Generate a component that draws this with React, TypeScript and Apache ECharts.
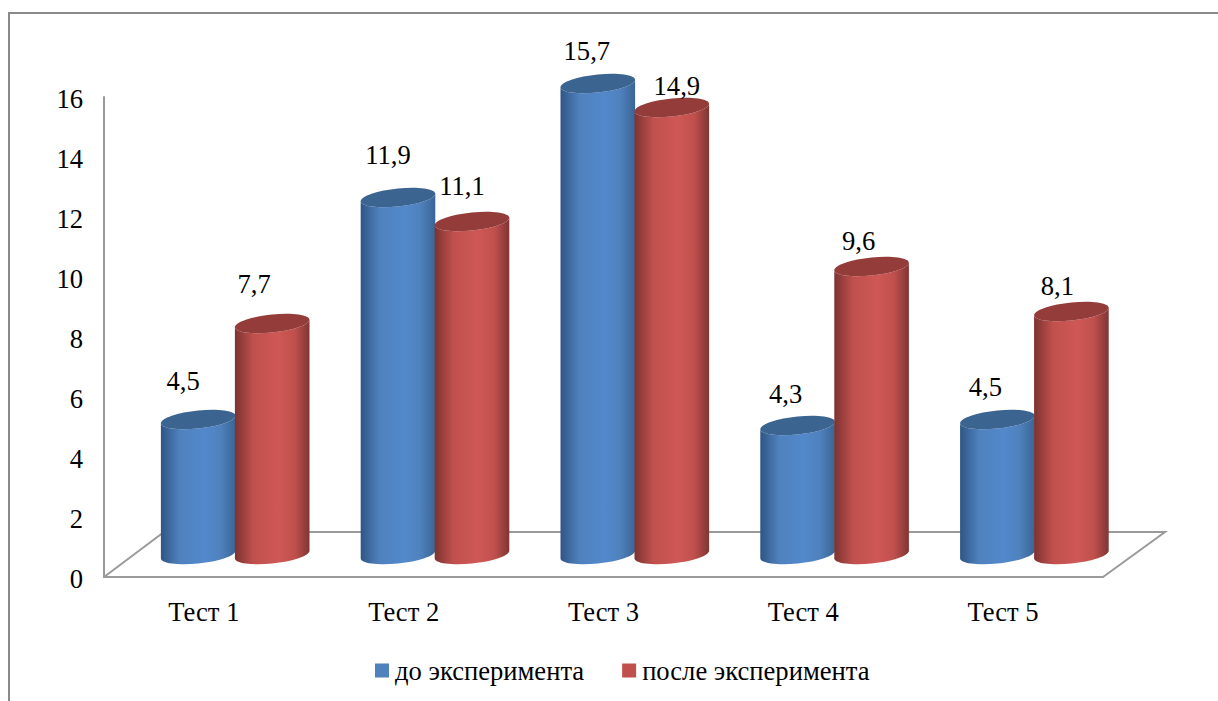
import React, { useEffect, useRef } from "react";
import * as echarts from "echarts";

const categories = ["Тест 1", "Тест 2", "Тест 3", "Тест 4", "Тест 5"];
const yTicks = { min: 0, max: 16, interval: 2 };
const beforeName = "до эксперимента";
const afterName = "после эксперимента";
const beforeValues = [4.5, 11.9, 15.7, 4.3, 4.5];
const afterValues = [7.7, 11.1, 14.9, 9.6, 8.1];

// Hand-placed nudges for the value captions, relative to each cylinder's top centre.
const beforeCaptionNudge = [[-15, -39], [-10, -43], [-11, -33], [-12, -32], [-12, -33]];
const afterCaptionNudge = [[-18, -40], [-10, -36], [5, -22], [-13, -26], [-14, -26]];

const SERIF = '"Liberation Serif", "Times New Roman", serif';
const FONT_SIZE = 26.6;
const GRID = { left: 104, top: 97, width: 999, height: 480 };
const DEPTH = { x: 60, y: -45 };
const CYL = { rx: 37.5, ry: 9, tilt: -6, gap: 37, shift: 1.3 };

const blue = { base: "#4f81bd", edgeL: "#2f5585", mid: "#5289cc", edgeR: "#3a6596", top: "#3c6491" };
const red = { base: "#c0504d", edgeL: "#7c3331", mid: "#cf5856", edgeR: "#803534", top: "#943c3a" };

type Palette = typeof blue;

const PHI = (CYL.tilt * Math.PI) / 180;
// Parameter of the tilted ellipse's right-most point, where the cylinder's side meets it.
const T_RIGHT = Math.atan2(-CYL.ry * Math.sin(PHI), CYL.rx * Math.cos(PHI));

function ellipsePoint(cx: number, cy: number, t: number) {
  const ex = CYL.rx * Math.cos(t);
  const ey = CYL.ry * Math.sin(t);
  return [cx + ex * Math.cos(PHI) - ey * Math.sin(PHI), cy + ex * Math.sin(PHI) + ey * Math.cos(PHI)];
}

function ellipseTangent(t: number) {
  const ex = -CYL.rx * Math.sin(t);
  const ey = CYL.ry * Math.cos(t);
  return [ex * Math.cos(PHI) - ey * Math.sin(PHI), ex * Math.sin(PHI) + ey * Math.cos(PHI)];
}

// Half an ellipse from parameter t0 to t1 as cubic segments, continuing an open path.
function halfEllipse(cx: number, cy: number, t0: number, t1: number) {
  const segments = 4;
  const step = (t1 - t0) / segments;
  const k = (4 / 3) * Math.tan(step / 4);
  let d = "";
  for (let s = 0; s < segments; s++) {
    const a = t0 + s * step;
    const b = a + step;
    const p0 = ellipsePoint(cx, cy, a);
    const p1 = ellipsePoint(cx, cy, b);
    const ta = ellipseTangent(a);
    const tb = ellipseTangent(b);
    d += `C${p0[0] + k * ta[0]} ${p0[1] + k * ta[1]} ${p1[0] - k * tb[0]} ${p1[1] - k * tb[1]} ${p1[0]} ${p1[1]} `;
  }
  return d;
}

function cylinderRenderer(values: number[], nudges: number[][], side: number, pal: Palette) {
  return (params: any, api: any) => {
    const i = params.dataIndex;
    const value = values[i];
    const [cx0, y0] = api.coord([i, 0]);
    const [, yTop] = api.coord([i, value]);
    // The cylinders stand mid-way across the floor's depth.
    const cx = cx0 + DEPTH.x / 2 + CYL.shift + side * CYL.gap;
    const lift = DEPTH.y / 2;
    const baseY = y0 + lift;
    const topY = yTop + lift;
    const leftTop = ellipsePoint(cx, topY, T_RIGHT + Math.PI);
    const leftBase = ellipsePoint(cx, baseY, T_RIGHT + Math.PI);
    const rightTop = ellipsePoint(cx, topY, T_RIGHT);
    const body =
      `M${leftTop[0]} ${leftTop[1]} L${leftBase[0]} ${leftBase[1]} ` +
      halfEllipse(cx, baseY, T_RIGHT + Math.PI, T_RIGHT) +
      `L${rightTop[0]} ${rightTop[1]} ` +
      halfEllipse(cx, topY, T_RIGHT, T_RIGHT + Math.PI) +
      "Z";
    const lid =
      `M${rightTop[0]} ${rightTop[1]} ` +
      halfEllipse(cx, topY, T_RIGHT, T_RIGHT + Math.PI) +
      halfEllipse(cx, topY, T_RIGHT + Math.PI, T_RIGHT + 2 * Math.PI) +
      "Z";
    const [nx, ny] = nudges[i];
    return {
      type: "group",
      children: [
        {
          type: "path",
          shape: { pathData: body },
          style: {
            fill: new echarts.graphic.LinearGradient(0, 0, 1, 0, [
              { offset: 0, color: pal.edgeL },
              { offset: 0.25, color: pal.base },
              { offset: 0.58, color: pal.mid },
              { offset: 0.8, color: pal.base },
              { offset: 1, color: pal.edgeR },
            ]),
          },
        },
        {
          type: "path",
          shape: { pathData: lid },
          style: { fill: pal.top },
        },
        {
          type: "text",
          x: cx + nx,
          y: topY + ny,
          style: {
            text: String(value).replace(".", ","),
            font: `${FONT_SIZE}px ${SERIF}`,
            fill: "#000",
            align: "center",
            verticalAlign: "middle",
          },
        },
      ],
    };
  };
}

// Back edge and side edges of the floor, from the plot rectangle.
function floorRenderer(params: any) {
  const r = params.coordSys;
  const bottom = r.y + r.height;
  const right = r.x + r.width;
  return {
    type: "polyline",
    silent: true,
    shape: {
      points: [
        [r.x, bottom],
        [r.x + DEPTH.x, bottom + DEPTH.y],
        [right + DEPTH.x + 2, bottom + DEPTH.y],
        [right, bottom],
      ],
    },
    style: { fill: "none", stroke: "#9a9a9a", lineWidth: 2 },
  };
}

function buildOption() {
  return {
    animation: false,
    backgroundColor: "#fff",
    color: [blue.base, red.base],
    graphic: [
      {
        type: "polyline",
        silent: true,
        shape: { points: [[9, 701], [9, 13], [1218, 13]] },
        style: { fill: "none", stroke: "#8a8a8a", lineWidth: 2 },
      },
    ],
    grid: GRID,
    xAxis: {
      type: "category",
      data: categories,
      axisTick: { show: false },
      axisLine: { show: true, lineStyle: { color: "#9a9a9a", width: 2 } },
      axisLabel: { color: "#000", fontFamily: SERIF, fontSize: FONT_SIZE, margin: 21 },
    },
    yAxis: {
      type: "value",
      ...yTicks,
      splitLine: { show: false },
      axisTick: { show: false },
      axisLine: { show: true, lineStyle: { color: "#9a9a9a", width: 2 } },
      axisLabel: {
        margin: 21,
        formatter: "{tick|{value}}",
        rich: { tick: { color: "#000", fontFamily: SERIF, fontSize: FONT_SIZE, padding: [4, 0, 0, 0] } },
      },
    },
    legend: {
      data: [beforeName, afterName],
      left: 370,
      top: 652,
      icon: "rect",
      itemWidth: 14,
      itemHeight: 14,
      itemGap: 38,
      textStyle: { color: "#000", fontFamily: SERIF, fontSize: FONT_SIZE, padding: [0, 0, 0, 1] },
    },
    series: [
      {
        type: "custom",
        name: "floor",
        silent: true,
        z: 1,
        renderItem: floorRenderer,
        data: [[0, 0]],
        encode: { x: 0, y: 1 },
      },
      {
        type: "custom",
        name: beforeName,
        z: 2,
        itemStyle: { color: blue.base },
        renderItem: cylinderRenderer(beforeValues, beforeCaptionNudge, -1, blue),
        data: beforeValues.map((v, i) => [i, v]),
        encode: { x: 0, y: 1 },
      },
      {
        type: "custom",
        name: afterName,
        z: 3,
        itemStyle: { color: red.base },
        renderItem: cylinderRenderer(afterValues, afterCaptionNudge, 1, red),
        data: afterValues.map((v, i) => [i, v]),
        encode: { x: 0, y: 1 },
      },
    ],
  };
}

export default function App() {
  const ref = useRef<HTMLDivElement>(null);
  useEffect(() => {
    document.body.style.margin = "0";
    const chart = echarts.init(ref.current!, null, { renderer: "svg" });
    chart.setOption(buildOption() as any);
    return () => chart.dispose();
  }, []);
  return <div ref={ref} style={{ width: 1218, height: 701 }} />;
}
